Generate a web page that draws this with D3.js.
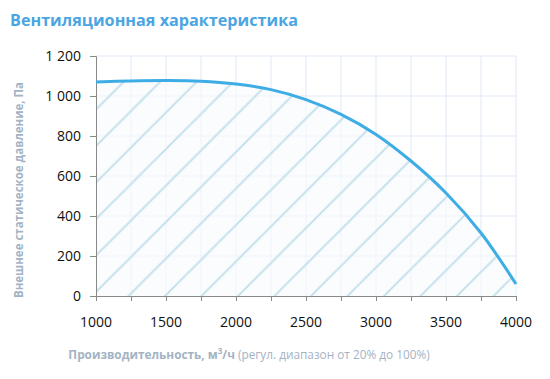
<!DOCTYPE html>
<html>
<head>
<meta charset="utf-8">
<script src="https://cdn.jsdelivr.net/npm/d3@7"></script>
<style>
  body { margin: 0; background: #fff; }
  text { font-family: "Open Sans", "Noto Sans", sans-serif; }
</style>
</head>
<body>
<div id="chart"></div>
<script>
// airflow, m3/h
var flow = [1000, 1250, 1500, 1750, 2000, 2250, 2500, 2750, 3000, 3250, 3500, 3750, 4000];
// external static pressure, Pa
var pressure = [1070, 1075, 1077, 1074, 1060, 1032, 982, 908, 808, 675, 515, 315, 60];
var xTicks = [1000, 1500, 2000, 2500, 3000, 3500, 4000];
var yTicks = [0, 200, 400, 600, 800, 1000, 1200];

var W = 550, H = 379;
var margin = { top: 56, right: 34, bottom: 83, left: 96 };

var svg = d3.select("#chart").append("svg")
    .attr("width", W)
    .attr("height", H);

var x = d3.scaleLinear().domain([1000, 4000]).range([margin.left, W - margin.right]);
var y = d3.scaleLinear().domain([0, 1200]).range([H - margin.bottom, margin.top]);

var data = flow.map(function(f, i) { return { f: f, p: pressure[i] }; });

// hatch pattern
var step = 36.5;
var hatchColor = "#c6e2ec";
var defs = svg.append("defs");
var pat = defs.append("pattern")
    .attr("id", "hatch")
    .attr("patternUnits", "userSpaceOnUse")
    .attr("x", 23).attr("y", 0)
    .attr("width", step).attr("height", step);
[[-2, step + 2, step + 2, -2],
 [-step / 2, step / 2, step / 2, -step / 2],
 [step / 2, step * 1.5, step * 1.5, step / 2]].forEach(function(l) {
  pat.append("line")
      .attr("x1", l[0]).attr("y1", l[1])
      .attr("x2", l[2]).attr("y2", l[3])
      .attr("stroke", hatchColor).attr("stroke-width", 2);
});

// grid
var vgrid = d3.range(1000, 4001, 250);
svg.append("g").selectAll("line")
    .data(vgrid.slice(1))
    .enter().append("line")
      .attr("x1", function(d) { return x(d); })
      .attr("x2", function(d) { return x(d); })
      .attr("y1", y(1200)).attr("y2", y(0))
      .attr("stroke", "#dfe9f5").attr("stroke-width", 1);
svg.append("g").selectAll("line")
    .data(yTicks.slice(1))
    .enter().append("line")
      .attr("x1", x(1000)).attr("x2", x(4000))
      .attr("y1", function(d) { return y(d); })
      .attr("y2", function(d) { return y(d); })
      .attr("stroke", "#dfe9f5").attr("stroke-width", 1);

var curve = d3.curveCatmullRom.alpha(0.5);

var area = d3.area()
    .x(function(d) { return x(d.f); })
    .y0(y(0))
    .y1(function(d) { return y(d.p); })
    .curve(curve);

svg.append("path")
    .datum(data)
    .attr("fill", "rgba(248,250,253,0.6)")
    .attr("d", area);
svg.append("path")
    .datum(data)
    .attr("fill", "url(#hatch)")
    .attr("d", area);

// axes
var xAxis = svg.append("g")
    .attr("transform", "translate(0," + y(0) + ")")
    .call(d3.axisBottom(x).tickValues(vgrid).tickSize(5).tickFormat(""));
xAxis.selectAll("path, line").attr("stroke", "#898989");

svg.append("g").selectAll("text")
    .data(xTicks)
    .enter().append("text")
      .attr("x", function(d) { return x(d); })
      .attr("y", y(0) + 31)
      .attr("text-anchor", "middle")
      .attr("font-size", 14)
      .attr("fill", "#111")
      .text(function(d) { return d; });

var yAxis = svg.append("g")
    .attr("transform", "translate(" + x(1000) + ",0)")
    .call(d3.axisLeft(y).tickValues(yTicks).tickSize(6).tickPadding(9)
      .tickFormat(function(d) { return d3.format(",")(d).replace(",", " "); }));
yAxis.selectAll("path, line").attr("stroke", "#898989");
yAxis.selectAll("text")
    .attr("font-size", 14)
    .attr("fill", "#111")
    .style("font-family", "'Open Sans', 'Noto Sans', sans-serif");

svg.append("path")
    .datum(data)
    .attr("fill", "none")
    .attr("stroke", "#3eade6")
    .attr("stroke-width", 3)
    .attr("d", d3.line().x(function(d) { return x(d.f); }).y(function(d) { return y(d.p); }).curve(curve));

// titles
svg.append("text")
    .attr("x", 10).attr("y", 26)
    .attr("font-size", 16.2)
    .attr("font-weight", "bold")
    .attr("fill", "#4ba5e2")
    .text("Вентиляционная характеристика");

svg.append("text")
    .attr("transform", "translate(23,190) rotate(-90)")
    .attr("text-anchor", "middle")
    .attr("font-size", 11.5)
    .attr("font-weight", "bold")
    .attr("fill", "#a3b3c4")
    .text("Внешнее статическое давление, Па");

var xt = svg.append("text")
    .attr("x", 249).attr("y", 359)
    .attr("text-anchor", "middle")
    .attr("font-size", 11.8)
    .attr("fill", "#a3b3c4");
xt.append("tspan").attr("font-weight", "bold").text("Производительность, м");
xt.append("tspan").attr("font-weight", "bold").attr("font-size", 8).attr("dy", -5).text("3");
xt.append("tspan").attr("font-weight", "bold").attr("dy", 5).text("/ч");
xt.append("tspan").text(" (регул. диапазон от 20% до 100%)");
</script>
</body>
</html>
